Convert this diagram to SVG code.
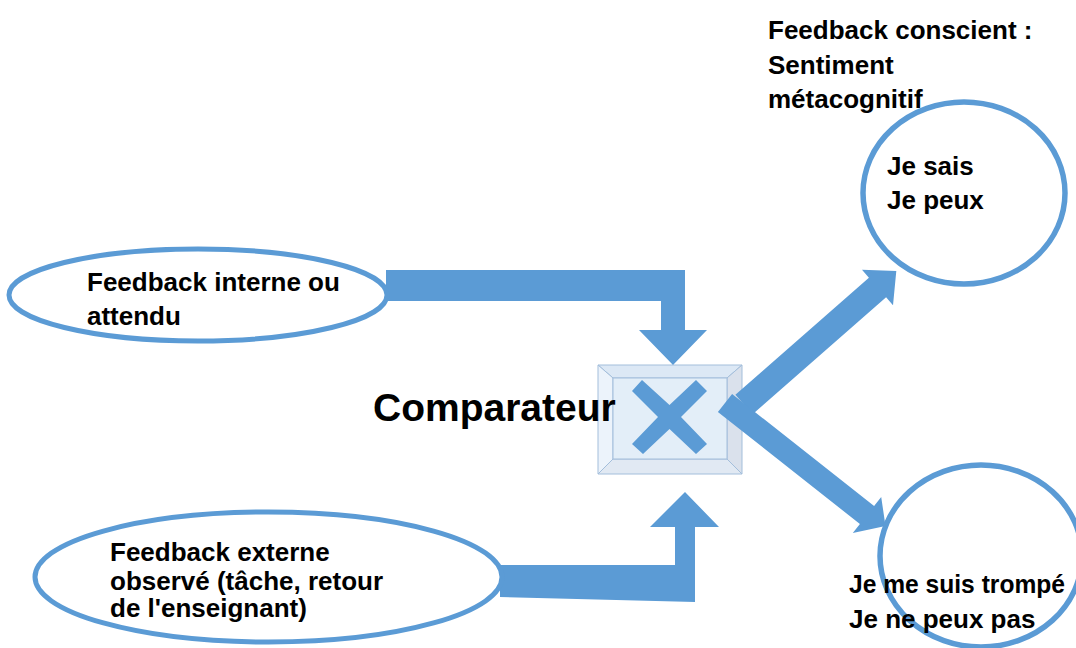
<svg xmlns="http://www.w3.org/2000/svg" width="1076" height="648" viewBox="0 0 1076 648">
<style>
.t{font-family:"Liberation Sans",Arial,sans-serif;font-weight:bold;font-size:26px;fill:#000}
.big{font-size:39px}
.arrow{fill:#5B9BD5}
.oval{fill:#fff;stroke:#5B9BD5;stroke-width:5}
.ring{fill:none;stroke:#5B9BD5;stroke-width:5.5}
.bev{stroke:#A3BEDB;stroke-width:1}
</style>
<rect width="1076" height="648" fill="#fff"/>
<g id="comparator">
<polygon class="bev" points="598,365 742,365 727,378 613,378" fill="#DCE8F5"/>
<polygon class="bev" points="598,365 613,378 613,459 598,474" fill="#ECF3FB"/>
<polygon class="bev" points="742,365 742,474 727,459 727,378" fill="#DAE1EC"/>
<polygon class="bev" points="598,474 613,459 727,459 742,474" fill="#E1E9F3"/>
<rect class="bev" x="613" y="378" width="114" height="81" fill="#E3EEF8"/>
<polygon class="arrow" points="642,380 669.5,405 696,380 707,391 681,417 707,444 696,454 669.5,429 643,454 632,444 658,417 632,391"/>
<text class="t big" x="373" y="421">Comparateur</text>
</g>
<g id="connectors">
<polygon class="arrow" points="386,270 685,270 685,330 707,330 673,365 639,330 661,330 661,301 386,301"/>
<polygon class="arrow" points="500,565 675,565 675,527 650,527 685,492 719,527 695,527 695,602 500,597"/>
<polygon class="arrow" points="735.4,394.7 868.9,277.7 862,269.8 896.3,271 893,305.2 886.1,297.3 752.6,414.3"/>
<polygon class="arrow" points="732.1,394 874.1,506 881.2,496.9 885.5,526 852.8,533.1 859.9,524 717.9,412"/>
</g>
<g id="node-internal">
<ellipse class="oval" cx="198" cy="295" rx="189" ry="46"/>
<text class="t" x="87" y="291">Feedback interne ou</text>
<text class="t" x="87" y="325">attendu</text>
</g>
<g id="node-external">
<ellipse class="oval" cx="268.5" cy="577" rx="233.5" ry="65"/>
<text class="t" x="110" y="561">Feedback externe</text>
<text class="t" x="110" y="589.5">observé (tâche, retour</text>
<text class="t" x="110" y="617">de l'enseignant)</text>
</g>
<g id="label-conscious">
<text class="t" x="768" y="39">Feedback conscient :</text>
<text class="t" x="768" y="74">Sentiment</text>
<text class="t" x="768" y="108">métacognitif</text>
</g>
<g id="node-success">
<ellipse class="ring" cx="964" cy="193" rx="101" ry="91"/>
<text class="t" x="887" y="175">Je sais</text>
<text class="t" x="887" y="209">Je peux</text>
</g>
<g id="node-error">
<ellipse class="ring" cx="981" cy="556" rx="101" ry="91"/>
<text class="t" x="849" y="593" textLength="216" lengthAdjust="spacingAndGlyphs">Je me suis trompé</text>
<text class="t" x="849" y="628">Je ne peux pas</text>
</g>
</svg>
